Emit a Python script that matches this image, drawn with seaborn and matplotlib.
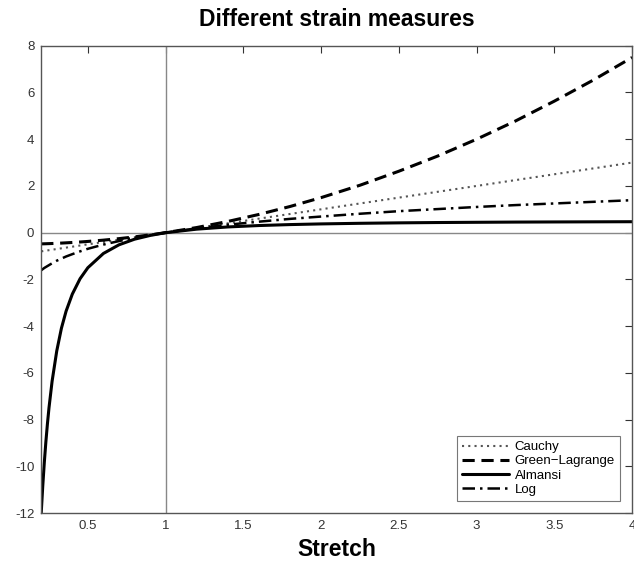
import numpy as np
import pandas as pd
import matplotlib
matplotlib.use("Agg")
import matplotlib.pyplot as plt
import seaborn as sns

# values
stretch = [0.2, 0.21, 0.22, 0.23, 0.24, 0.25, 0.27, 0.3, 0.33, 0.36, 0.4, 0.45, 0.5,
           0.6, 0.7, 0.8, 0.9, 1.0, 1.2, 1.4, 1.6, 1.8, 2.0, 2.25, 2.5, 2.75, 3.0,
           3.25, 3.5, 3.75, 4.0]
cauchy = [-0.8, -0.79, -0.78, -0.77, -0.76, -0.75, -0.73, -0.7, -0.67, -0.64, -0.6,
          -0.55, -0.5, -0.4, -0.3, -0.2, -0.1, 0.0, 0.2, 0.4, 0.6, 0.8, 1.0, 1.25,
          1.5, 1.75, 2.0, 2.25, 2.5, 2.75, 3.0]
green_lagrange = [-0.48, -0.478, -0.476, -0.474, -0.471, -0.469, -0.464, -0.455,
                  -0.446, -0.435, -0.42, -0.399, -0.375, -0.32, -0.255, -0.18, -0.095,
                  0.0, 0.22, 0.48, 0.78, 1.12, 1.5, 2.03, 2.63, 3.28, 4.0, 4.78, 5.63,
                  6.53, 7.5]
almansi = [-12.0, -10.84, -9.83, -8.95, -8.18, -7.5, -6.36, -5.06, -4.09, -3.36, -2.63,
           -1.97, -1.5, -0.89, -0.52, -0.28, -0.12, 0.0, 0.15, 0.245, 0.305, 0.346,
           0.375, 0.401, 0.42, 0.434, 0.444, 0.453, 0.459, 0.464, 0.469]
log_strain = [-1.61, -1.56, -1.51, -1.47, -1.43, -1.39, -1.31, -1.2, -1.11, -1.02, -0.92,
              -0.8, -0.69, -0.51, -0.36, -0.22, -0.11, 0.0, 0.18, 0.34, 0.47, 0.59, 0.69,
              0.81, 0.92, 1.01, 1.1, 1.18, 1.25, 1.32, 1.39]

x_ticks = [0.5, 1, 1.5, 2, 2.5, 3, 3.5, 4]
y_ticks = [-12, -10, -8, -6, -4, -2, 0, 2, 4, 6, 8]

sns.set_style("white")
plt.rcParams['font.family'] = ['Liberation Sans', 'DejaVu Sans']

fig = plt.figure(figsize=(6.34, 5.65), dpi=100)
ax = fig.add_axes([0.065, 0.092, 0.932, 0.827])

ax.axvline(1, color="#888888", lw=1.0, zorder=1)
ax.axhline(0, color="#888888", lw=1.0, zorder=1)

series = [
    ("Cauchy", cauchy, dict(linestyle=(0, (1, 2)), lw=1.5, color="#555555")),
    ("Green\u2212Lagrange", green_lagrange, dict(linestyle=(0, (4, 2.2)), lw=2.2, color="black")),
    ("Almansi", almansi, dict(linestyle="-", lw=2.2, color="black")),
    ("Log", log_strain, dict(linestyle=(0, (5, 2, 1, 2)), lw=1.8, color="black")),
]
for name, vals, kw in series:
    sns.lineplot(x=stretch, y=vals, ax=ax, label=name, **kw)

ax.set_xlim(0.2, 4)
ax.set_ylim(-12, 8)
ax.set_xticks(x_ticks)
ax.set_xticklabels(["0.5", "1", "1.5", "2", "2.5", "3", "3.5", "4"])
ax.set_yticks(y_ticks)
ax.set_yticklabels([str(v) for v in y_ticks])
ax.tick_params(direction="in", length=5, width=0.8, top=True, right=True,
               labelsize=9.5, colors="#333333", pad=5)
for s in ax.spines.values():
    s.set_color("#555555")
    s.set_linewidth(1.0)

ax.set_title("Different strain measures", fontsize=16.5, fontweight="bold", pad=14,
             color="black")
ax.set_xlabel("Stretch", fontsize=16.5, fontweight="bold", labelpad=4, color="black")
ax.set_ylabel("")

leg = ax.legend(loc="lower right", fontsize=9.5, frameon=True, fancybox=False,
                handlelength=3.6, borderpad=0.4, labelspacing=0.15, handletextpad=0.4,
                borderaxespad=0.9)
leg.get_frame().set_edgecolor("#555555")
leg.get_frame().set_linewidth(0.8)
for t in leg.get_texts():
    t.set_color("black")

fig.savefig("out.png", dpi=100)
